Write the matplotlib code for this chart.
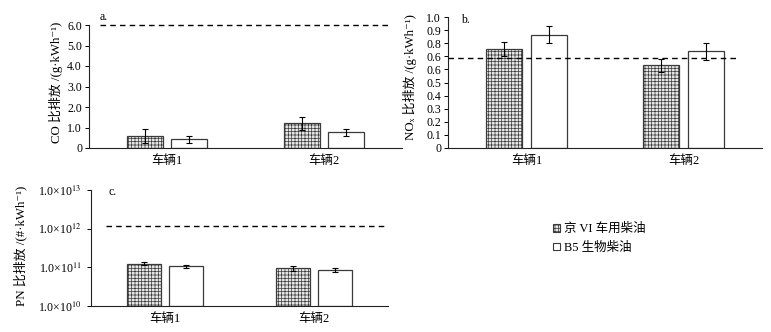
import matplotlib
matplotlib.use('Agg')
import matplotlib.pyplot as plt
import numpy as np
from matplotlib.patches import Patch

plt.rcParams['font.family'] = ['Liberation Serif', 'Noto Sans CJK SC', 'DejaVu Serif']
plt.rcParams['mathtext.fontset'] = 'stix'
plt.rcParams['font.size'] = 8.5
plt.rcParams['hatch.color'] = '#9a9a9a'
plt.rcParams['hatch.linewidth'] = 0.5

# 数据
vehicles = ['车辆1', '车辆2']
fuels = ['京 VI 车用柴油', 'B5 生物柴油']

co_jing6 = [0.58, 1.20]
co_jing6_err = [0.33, 0.33]
co_b5 = [0.42, 0.76]
co_b5_err = [0.17, 0.18]
co_limit = 6.0

nox_jing6 = [0.755, 0.633]
nox_jing6_err = [0.056, 0.05]
nox_b5 = [0.865, 0.737]
nox_b5_err = [0.064, 0.064]
nox_limit = 0.69
nox_ticks = [0, 0.1, 0.2, 0.3, 0.4, 0.5, 0.6, 0.7, 0.8, 0.9, 1.0]
nox_ticklabels = ['0', '0.1', '0.2', '0.3', '0.4', '0.5', '0.6', '0.6', '0.8', '0.9', '1.0']

pn_jing6 = [1.24e11, 0.94e11]
pn_jing6_err = [0.12e11, 0.15e11]
pn_b5 = [1.06e11, 0.85e11]
pn_b5_err = [0.08e11, 0.10e11]
pn_limit = 1.2e12

W, H = 771, 332
fig = plt.figure(figsize=(W / 100, H / 100), dpi=100)


def box(l, r, t, b):
    return [l / W, 1 - b / H, (r - l) / W, (b - t) / H]


ax_a = fig.add_axes(box(89, 402, 25, 148))
ax_b = fig.add_axes(box(448, 762, 17, 148))
ax_c = fig.add_axes(box(91, 388, 190, 306))

x = np.arange(len(vehicles))
w = 0.23
off = 0.142
gray_face = '#e6e6e6'
gray_hatch = '+++++'


def draw_bars(ax, v1, e1, v2, e2, bottom=0):
    kw = dict(width=w, edgecolor='#3a3a3a', linewidth=0.9, zorder=2)
    ekw = dict(elinewidth=0.8, capthick=0.8)
    ax.bar(x - off, np.array(v1) - bottom, bottom=bottom, facecolor=gray_face,
           hatch=gray_hatch, yerr=e1, capsize=2, error_kw=ekw, **kw)
    ax.bar(x + off, np.array(v2) - bottom, bottom=bottom, facecolor='white',
           yerr=e2, capsize=2, error_kw=ekw, **kw)


def style(ax):
    ax.spines['top'].set_visible(False)
    ax.spines['right'].set_visible(False)
    for s in ('left', 'bottom'):
        ax.spines[s].set_linewidth(0.8)
        ax.spines[s].set_color('#222222')
    ax.set_xlim(-0.5, 1.5)
    ax.set_xticks(x)
    ax.set_xticklabels(vehicles, fontsize=9)
    ax.tick_params(axis='x', length=0, pad=5)
    ax.tick_params(axis='y', direction='out', length=3, width=0.7, pad=2)


# a. CO
draw_bars(ax_a, co_jing6, co_jing6_err, co_b5, co_b5_err)
ax_a.set_ylim(0, 6.0)
ax_a.set_yticks(np.arange(0, 7, 1.0))
ax_a.set_yticklabels(['0'] + ['%.1f' % v for v in np.arange(1, 7, 1.0)])
ax_a.hlines(co_limit, -0.43, 1.42, colors='black', linestyles=(0, (4, 3)),
            linewidth=1.0, clip_on=False, zorder=3)
ax_a.set_ylabel('CO 比排放 /(g·kWh⁻¹)', fontsize=9.3)
ax_a.yaxis.set_label_coords(-0.082, 0.53)
style(ax_a)
ax_a.text(-0.43, 6.25, 'a.', fontsize=8.5)

# b. NOx
draw_bars(ax_b, nox_jing6, nox_jing6_err, nox_b5, nox_b5_err)
ax_b.set_ylim(0, 1.0)
ax_b.set_yticks(nox_ticks)
ax_b.set_yticklabels(nox_ticklabels)
ax_b.hlines(nox_limit, -0.5, 1.35, colors='black', linestyles=(0, (4, 3)),
            linewidth=1.0, zorder=3)
ax_b.set_ylabel('NOₓ 比排放 /(g·kWh⁻¹)', fontsize=9.3)
ax_b.yaxis.set_label_coords(-0.098, 0.54)
style(ax_b)
ax_b.text(-0.42, 0.955, 'b.', fontsize=8.5)

# c. PN
draw_bars(ax_c, pn_jing6, pn_jing6_err, pn_b5, pn_b5_err, bottom=1e10)
ax_c.set_yscale('log')
ax_c.set_ylim(1e10, 1e13)
ax_c.set_yticks([1e10, 1e11, 1e12, 1e13])
ax_c.set_yticklabels(['1.0×10$^{10}$', '1.0×10$^{11}$', '1.0×10$^{12}$', '1.0×10$^{13}$'])
ax_c.minorticks_off()
ax_c.hlines(pn_limit, -0.4, 1.47, colors='black', linestyles=(0, (4, 3)),
            linewidth=1.0, zorder=3)
ax_c.set_ylabel('PN 比排放 /(#·kWh⁻¹)', fontsize=9.3)
ax_c.yaxis.set_label_coords(-0.215, 0.52)
style(ax_c)
ax_c.yaxis.set_tick_params(pad=4)
ax_c.text(-0.38, 7.5e12, 'c.', fontsize=8.5)

handles = [Patch(facecolor=gray_face, edgecolor='#3a3a3a', hatch=gray_hatch, linewidth=0.8),
           Patch(facecolor='white', edgecolor='#3a3a3a', linewidth=0.8)]
fig.legend(handles, fuels, loc='upper left', bbox_to_anchor=(548 / W, 1 - 218 / H),
           frameon=False, handlelength=0.55, handleheight=0.55, handletextpad=0.3,
           labelspacing=0.55, fontsize=9, borderaxespad=0)

fig.savefig('out.png', dpi=100)
